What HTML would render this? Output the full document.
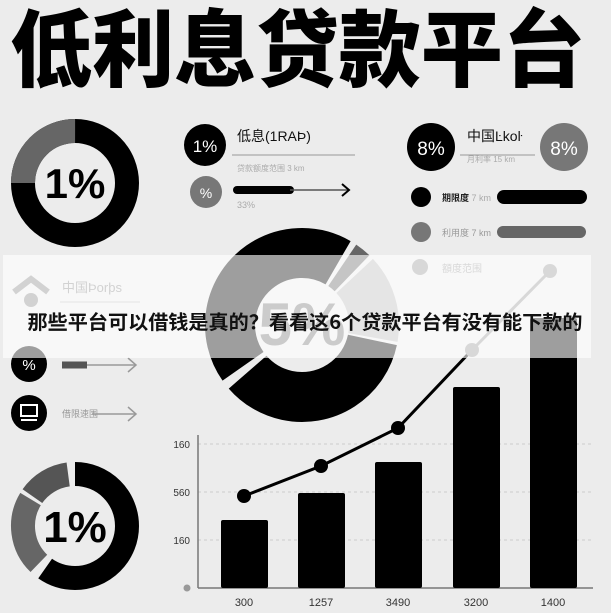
<!DOCTYPE html>
<html><head><meta charset="utf-8"><style>
html,body{margin:0;padding:0;background:#ececec;}
svg{display:block;font-family:"Liberation Sans","Noto Sans CJK SC",sans-serif;}
</style></head><body>
<svg width="611" height="613" viewBox="0 0 611 613" xmlns="http://www.w3.org/2000/svg">
<rect width="611" height="613" fill="#ececec"/>
<text x="10" y="80" font-size="84" font-weight="900" font-family="Noto Sans CJK SC,sans-serif" textLength="575" lengthAdjust="spacingAndGlyphs" fill="#000">低利息贷款平台</text>

<!-- top-left donut -->
<circle cx="75" cy="183" r="52" fill="none" stroke="#000" stroke-width="24"/>
<circle cx="75" cy="183" r="52" fill="none" stroke="#666" stroke-width="24" stroke-dasharray="81.7 400" transform="rotate(180 75 183)"/>
<text x="75" y="198" font-size="42" font-weight="bold" text-anchor="middle" fill="#000">1%</text>

<!-- top middle -->
<circle cx="205" cy="145" r="21" fill="#000"/>
<text x="205" y="152" font-size="17" text-anchor="middle" fill="#fff">1%</text>
<text x="237" y="141" font-size="14" fill="#111">低息(1RAÞ)</text>
<line x1="232" y1="155" x2="355" y2="155" stroke="#999" stroke-width="1"/>
<text x="237" y="171" font-size="8" fill="#aaa">贷款额度范围 3 km</text>
<circle cx="206" cy="192" r="16" fill="#777"/>
<text x="206" y="198" font-size="14" text-anchor="middle" fill="#fff">%</text>
<line x1="237" y1="190" x2="290" y2="190" stroke="#000" stroke-width="8" stroke-linecap="round"/>
<line x1="290" y1="190" x2="348" y2="190" stroke="#555" stroke-width="1.5"/>
<polyline points="342,184 349,190 342,196" fill="none" stroke="#000" stroke-width="2"/>
<text x="237" y="208" font-size="9" fill="#aaa">33%</text>

<!-- top right -->
<circle cx="431" cy="147" r="24" fill="#000"/>
<text x="431" y="155" font-size="19" text-anchor="middle" fill="#fff">8%</text>
<text x="467" y="141" font-size="14" fill="#111">中国Ŀkoŀ</text>
<line x1="460" y1="155" x2="535" y2="155" stroke="#999" stroke-width="1"/>
<text x="467" y="162" font-size="8" fill="#aaa">月利率 15 km</text>
<circle cx="564" cy="147" r="24" fill="#777"/>
<text x="564" y="155" font-size="19" text-anchor="middle" fill="#fff">8%</text>
<circle cx="421" cy="197" r="10" fill="#000"/>
<text x="442" y="201" font-size="9" font-weight="bold" fill="#222">期限度 <tspan fill="#aaa" font-weight="normal">7 km</tspan></text>
<line x1="504" y1="197" x2="580" y2="197" stroke="#000" stroke-width="14" stroke-linecap="round"/>
<circle cx="421" cy="232" r="10" fill="#777"/>
<text x="442" y="236" font-size="9" fill="#999">利用度 7 km</text>
<line x1="503" y1="232" x2="580" y2="232" stroke="#666" stroke-width="12" stroke-linecap="round"/>
<circle cx="420" cy="267" r="8" fill="#999"/>
<text x="442" y="272" font-size="10" fill="#999">額度范围</text>

<!-- big donut -->
<g fill="none" stroke-width="50">
<circle cx="302" cy="325" r="72" stroke="#000" stroke-dasharray="194.8 600" transform="rotate(145 302 325)"/>
<circle cx="302" cy="325" r="72" stroke="#666" stroke-dasharray="12.6 600" transform="rotate(-56 302 325)"/>
<circle cx="302" cy="325" r="72" stroke="#bbb" stroke-dasharray="66.6 600" transform="rotate(-43 302 325)"/>
<circle cx="302" cy="325" r="72" stroke="#000" stroke-dasharray="159.6 600" transform="rotate(12 302 325)"/>
</g>
<text x="302" y="345" font-size="60" font-weight="bold" text-anchor="middle" fill="#777">5%</text>

<!-- left middle -->
<path d="M14 292 L31 279 L48 292" fill="none" stroke="#888" stroke-width="6"/>
<circle cx="31" cy="300" r="7" fill="#888"/>
<text x="62" y="292" font-size="13" fill="#888">中国Þorþs</text>
<line x1="60" y1="302" x2="140" y2="302" stroke="#bbb"/>
<circle cx="29" cy="364" r="18" fill="#000"/>
<text x="29" y="370" font-size="15" text-anchor="middle" fill="#fff">%</text>
<line x1="62" y1="365" x2="87" y2="365" stroke="#555" stroke-width="7"/>
<line x1="87" y1="365" x2="135" y2="365" stroke="#999" stroke-width="1.5"/>
<polyline points="128,358 136,365 128,372" fill="none" stroke="#999" stroke-width="1.5"/>
<circle cx="29" cy="413" r="18" fill="#000"/>
<rect x="21" y="405" width="16" height="11" fill="none" stroke="#fff" stroke-width="2"/>
<line x1="21" y1="420" x2="37" y2="420" stroke="#fff" stroke-width="2"/>
<text x="62" y="417" font-size="9" fill="#999">借限速围</text>
<line x1="92" y1="414" x2="135" y2="414" stroke="#999" stroke-width="1.5"/>
<polyline points="128,407 136,414 128,421" fill="none" stroke="#999" stroke-width="1.5"/>

<!-- bottom-left donut -->
<circle cx="75" cy="526" r="52" fill="none" stroke="#000" stroke-width="24" stroke-dasharray="195 400" transform="rotate(-90 75 526)"/>
<circle cx="75" cy="526" r="52" fill="none" stroke="#666" stroke-width="24" stroke-dasharray="70 400" transform="rotate(134 75 526)"/>
<circle cx="75" cy="526" r="52" fill="none" stroke="#555" stroke-width="24" stroke-dasharray="43 400" transform="rotate(215 75 526)"/>
<text x="75" y="542" font-size="44" font-weight="bold" text-anchor="middle" fill="#000">1%</text>

<!-- bar chart -->
<g stroke="#ccc" stroke-dasharray="3 3">
<line x1="198" y1="444" x2="592" y2="444"/><line x1="198" y1="492" x2="592" y2="492"/><line x1="198" y1="540" x2="592" y2="540"/>
</g>
<line x1="198" y1="435" x2="198" y2="588" stroke="#777" stroke-width="1.5"/>
<line x1="198" y1="588" x2="593" y2="588" stroke="#777" stroke-width="1.5"/>
<circle cx="187" cy="588" r="3.5" fill="#999"/>
<g font-size="10" fill="#333" text-anchor="end">
<text x="190" y="448">160</text><text x="190" y="496">560</text><text x="190" y="544">160</text>
</g>
<g fill="#000">
<rect x="221" y="520" width="47" height="68" rx="2"/>
<rect x="298" y="493" width="47" height="95" rx="2"/>
<rect x="375" y="462" width="47" height="126" rx="2"/>
<rect x="453" y="387" width="47" height="201" rx="2"/>
<rect x="530" y="318" width="47" height="270" rx="2"/>
</g>
<g font-size="11" fill="#333" text-anchor="middle">
<text x="244" y="606">300</text><text x="321" y="606">1257</text><text x="398" y="606">3490</text><text x="476" y="606">3200</text><text x="553" y="606">1400</text>
</g>
<polyline points="244,496 321,466 398,428 472,350" fill="none" stroke="#000" stroke-width="3"/>
<line x1="472" y1="350" x2="550" y2="271" stroke="#999" stroke-width="3"/>
<circle cx="244" cy="496" r="7" fill="#000"/>
<circle cx="321" cy="466" r="7" fill="#000"/>
<circle cx="398" cy="428" r="7" fill="#000"/>
<circle cx="472" cy="350" r="7" fill="#999"/>
<circle cx="550" cy="271" r="7" fill="#999"/>

<!-- banner -->
<rect x="3" y="255" width="588" height="103" fill="#fff" opacity="0.62"/>
<text x="305" y="329" font-size="19.5" font-weight="bold" text-anchor="middle" fill="#111" font-family="Noto Sans CJK SC,sans-serif" textLength="555" lengthAdjust="spacingAndGlyphs">那些平台可以借钱是真的？看看这6个贷款平台有没有能下款的</text>
</svg>
</body></html>
